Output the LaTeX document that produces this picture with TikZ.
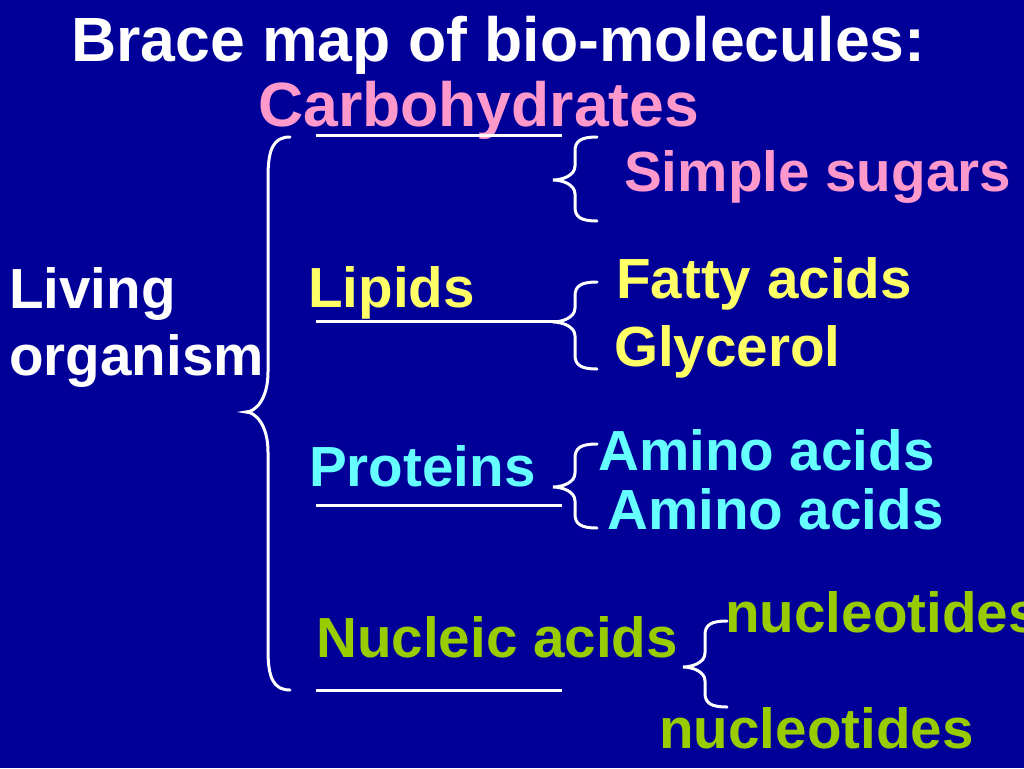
\documentclass[tikz,border=0pt]{standalone}
\usepackage{fontspec}
\setmainfont{Liberation Sans}
\definecolor{bgnavy}{HTML}{000099}
\definecolor{cpink}{HTML}{FF99CC}
\definecolor{cyellow}{HTML}{FFFF66}
\definecolor{ccyan}{HTML}{66FFFF}
\definecolor{cgreen}{HTML}{99CC00}
\newcommand\bmbrace[7]{%
\draw[bracestyle] (#1,#4) .. controls ({#2+0.25*(#1-#2)},#4) and (#2,{#4+0.3*#7}) .. (#2,{#4+#7})
 -- (#2,{#5-#7})
 .. controls (#2,{#5-0.3*#7}) and ({#3+0.4*(#2-#3)},#5) .. (#3,#5)
 .. controls ({#3+0.4*(#2-#3)},#5) and (#2,{#5+0.3*#7}) .. (#2,{#5+#7})
 -- (#2,{#6-#7})
 .. controls (#2,{#6-0.3*#7}) and ({#2+0.25*(#1-#2)},#6) .. (#1,#6);}
\begin{document}
\begin{tikzpicture}[x=1pt,y=-1pt,
  lbl/.style={inner sep=0pt,anchor=base west,font=\fontsize{56.6}{60}\selectfont\bfseries},
  big/.style={inner sep=0pt,anchor=base west,font=\fontsize{62.5}{66}\selectfont\bfseries},
  rule/.style={draw=white,line width=3pt},
  bracestyle/.style={draw=white,line width=3pt,line cap=round}]
\fill[bgnavy] (0,0) rectangle (1024,768);
\useasboundingbox (0,0) rectangle (1024,768);
% texts
\node[big,text=white] (title) at (71,62) {Brace map of bio-molecules:};
\node[big,text=cpink] (carb) at (258,126) {Carbohydrates};
\node[lbl,text=cpink] (simple) at (624,191) {Simple sugars};
\node[lbl,text=white] (living) at (9,308) {Living};
\node[lbl,text=white] (organism) at (9,375) {organism};
\node[lbl,text=cyellow] (lipids) at (308,307) {Lipids};
\node[lbl,text=cyellow] (fatty) at (616,298) {Fatty acids};
\node[lbl,text=cyellow] (glycerol) at (614,366) {Glycerol};
\node[lbl,text=ccyan] (proteins) at (309,486) {Proteins};
\node[lbl,text=ccyan] (amino1) at (598,470) {Amino acids};
\node[lbl,text=ccyan] (amino2) at (607,529) {Amino acids};
\node[lbl,text=cgreen] (nucleic) at (316,657) {Nucleic acids};
\node[lbl,text=cgreen] (nucleo1) at (725,632) {nucleotides};
\node[lbl,text=cgreen] (nucleo2) at (659,748) {nucleotides};
% rules
\coordinate (r1a) at (316,135); \coordinate (r1b) at (562,135);
\coordinate (r2a) at (316,321); \coordinate (r2b) at (562,321);
\coordinate (r3a) at (316,505); \coordinate (r3b) at (562,505);
\coordinate (r4a) at (316,690); \coordinate (r4b) at (562,690);
\draw[rule] (r1a) -- (r1b);
\draw[rule] (r2a) -- (r2b);
\draw[rule] (r3a) -- (r3b);
\draw[rule] (r4a) -- (r4b);
% braces
\bmbrace{290}{268}{246}{137}{412}{690}{40}
\bmbrace{597}{575}{553}{137}{180}{221}{14}
\bmbrace{597}{575}{553}{282}{322}{369}{14}
\bmbrace{597}{575}{553}{444}{487}{528}{14}
\bmbrace{727}{705}{683}{621}{667}{707}{14}
\end{tikzpicture}
\end{document}
